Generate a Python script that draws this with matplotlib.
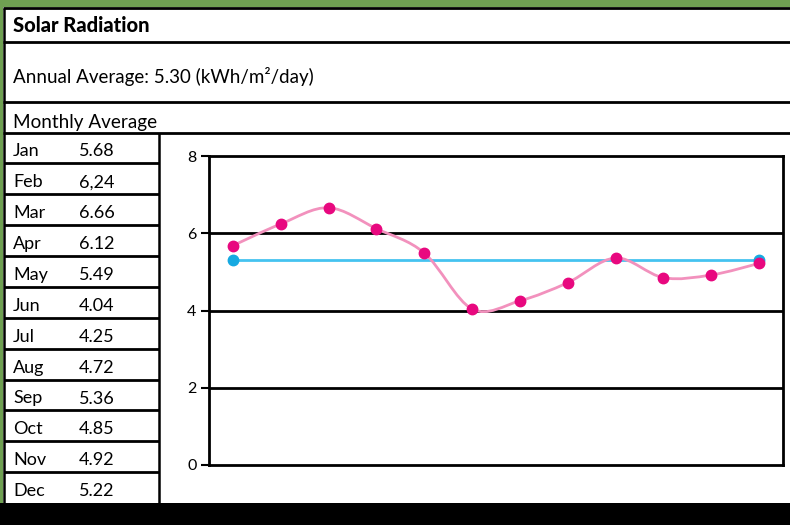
import matplotlib.pyplot as plt
import numpy as np
from matplotlib.path import Path
from matplotlib.patches import PathPatch, Rectangle

plt.rcParams["font.family"] = ["Lato", "DejaVu Sans"]

months = ["Jan", "Feb", "Mar", "Apr", "May", "Jun",
          "Jul", "Aug", "Sep", "Oct", "Nov", "Dec"]
value_labels = ["5.68", "6,24", "6.66", "6.12", "5.49", "4.04",
                "4.25", "4.72", "5.36", "4.85", "4.92", "5.22"]
monthly = [5.68, 6.24, 6.66, 6.12, 5.49, 4.04, 4.25, 4.72, 5.36, 4.85, 4.92, 5.22]
annual_avg = 5.30
y_ticks = [0, 2, 4, 6, 8]

PINK_LINE = "#f291bd"
PINK_DOT = "#e8087f"
BLUE_LINE = "#45c3f0"
BLUE_DOT = "#16a9e1"
GREEN = "#6fa052"

W, H = 790, 525
fig = plt.figure(figsize=(W / 100, H / 100), dpi=100)

# full-figure axes in pixel coordinates for the table frame
bg = fig.add_axes([0, 0, 1, 1])
bg.set_xlim(0, W)
bg.set_ylim(H, 0)
bg.axis("off")

bg.add_patch(Rectangle((0, 0), W, 7, color=GREEN, lw=0))
bg.add_patch(Rectangle((0, 0), 2.5, 503, color=GREEN, lw=0))
bg.add_patch(Rectangle((0, 503), W, H - 503, color="black", lw=0))

for y in (8, 42, 102, 132.5):
    bg.hlines(y, 2.5, W, color="black", lw=2.0)
bg.vlines(3.5, 8, 503, color="black", lw=1.8)
bg.vlines(158.5, 132.5, 503, color="black", lw=1.8)

row_h = (503 - 132.5) / len(months)
for i in range(1, len(months)):
    bg.hlines(132.5 + i * row_h, 3.5, 158.5, color="black", lw=2.0)

bg.text(13, 25, "Solar Radiation", fontsize=14.5, fontweight="black", va="center")
bg.text(13, 77, "Annual Average: 5.30 (kWh/m\u00b2/day)", fontsize=13.5, va="center")
bg.text(13, 128, "Monthly Average", fontsize=13.6, va="baseline")

for i, (m, v) in enumerate(zip(months, value_labels)):
    base = 132.5 + i * row_h + 24
    bg.text(13, base, m, fontsize=13, va="baseline")
    bg.text(79, base, v, fontsize=13, va="baseline")

# chart area
x0, x1, ytop, ybot = 209, 783, 156, 465
ax = fig.add_axes([x0 / W, (H - ybot) / H, (x1 - x0) / W, (ybot - ytop) / H])
ax.set_xlim(-0.5, 11.5)
ax.set_ylim(0, 8)
ax.set_facecolor("none")
for side in ("left", "right", "top", "bottom"):
    ax.spines[side].set_linewidth(2.0)
    ax.spines[side].set_color("black")
ax.set_xticks([])
ax.set_yticks(y_ticks)
ax.set_yticklabels([str(t) for t in y_ticks], fontsize=11.5)
ax.tick_params(axis="y", length=6, width=1.5, pad=3, direction="out")
for t in y_ticks[1:-1]:
    ax.axhline(t, color="black", lw=2.0, zorder=1)

x = np.arange(len(months))

# annual average line with end markers
ax.plot([x[0], x[-1]], [annual_avg, annual_avg], color=BLUE_LINE, lw=2.0, zorder=2)
ax.plot([x[0], x[-1]], [annual_avg, annual_avg], ls="none", marker="o",
        ms=7.5, color=BLUE_DOT, zorder=3)

# smoothed monthly line drawn as cubic Bezier segments through the data
pts = np.column_stack([x, monthly]).astype(float)
padded = np.vstack([pts[0], pts, pts[-1]])
verts = [tuple(pts[0])]
codes = [Path.MOVETO]
for i in range(len(pts) - 1):
    p0, p1, p2, p3 = padded[i], padded[i + 1], padded[i + 2], padded[i + 3]
    c1 = p1 + (p2 - p0) / 6.0
    c2 = p2 - (p3 - p1) / 6.0
    verts += [tuple(c1), tuple(c2), tuple(p2)]
    codes += [Path.CURVE4] * 3
ax.add_patch(PathPatch(Path(verts, codes), fc="none", ec=PINK_LINE, lw=2.0, zorder=3))
ax.plot(x, monthly, ls="none", marker="o", ms=7.5, color=PINK_DOT, zorder=4)

fig.savefig("out.png", dpi=100)
